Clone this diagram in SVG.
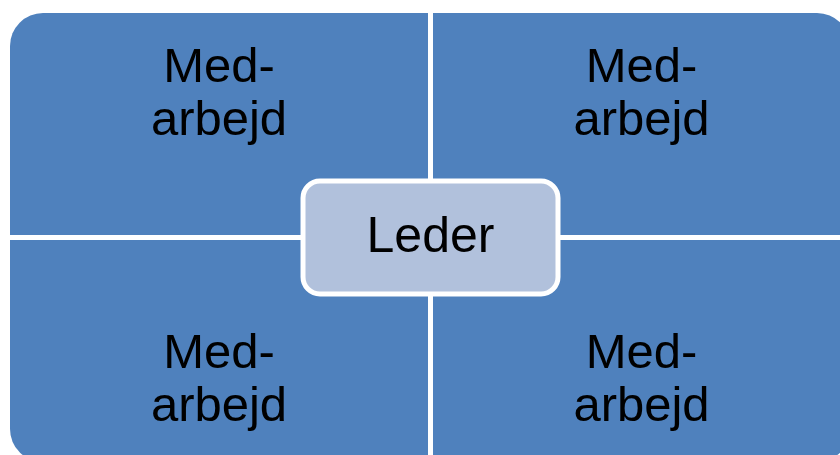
<svg xmlns="http://www.w3.org/2000/svg" width="840" height="455" viewBox="0 0 840 455">
<style>
.q{fill:#4F81BD}
.t{font-family:"Liberation Sans",Arial,sans-serif;font-size:49px;fill:#000;text-anchor:middle}
.c{fill:#B1C1DC;stroke:#FFFFFF;stroke-width:5}
</style>
<rect width="840" height="455" fill="#FFFFFF"/>
<g id="connectors"></g>
<g id="q-top-left">
<path class="q" d="M10,46 A33,33 0 0 1 43,13 L428,13 L428,235 L10,235 Z"/>
<text class="t" x="219" y="81.7">Med-</text>
<text class="t" x="219" y="135">arbejd</text>
</g>
<g id="q-top-right">
<path class="q" d="M433,13 L817,13 A33,33 0 0 1 850,46 L850,235 L433,235 Z"/>
<text class="t" x="641.5" y="81.7">Med-</text>
<text class="t" x="641.5" y="135">arbejd</text>
</g>
<g id="q-bottom-left">
<path class="q" d="M10,240 L428,240 L428,462 L43,462 A33,33 0 0 1 10,429 Z"/>
<text class="t" x="219" y="367.5">Med-</text>
<text class="t" x="219" y="421">arbejd</text>
</g>
<g id="q-bottom-right">
<path class="q" d="M433,240 L850,240 L850,429 A33,33 0 0 1 817,462 L433,462 Z"/>
<text class="t" x="641.5" y="367.5">Med-</text>
<text class="t" x="641.5" y="421">arbejd</text>
</g>
<g id="leder">
<rect class="c" x="303" y="181" width="255" height="113" rx="17"/>
<text class="t" x="430.5" y="251.7" style="font-size:50px">Leder</text>
</g>
</svg>
